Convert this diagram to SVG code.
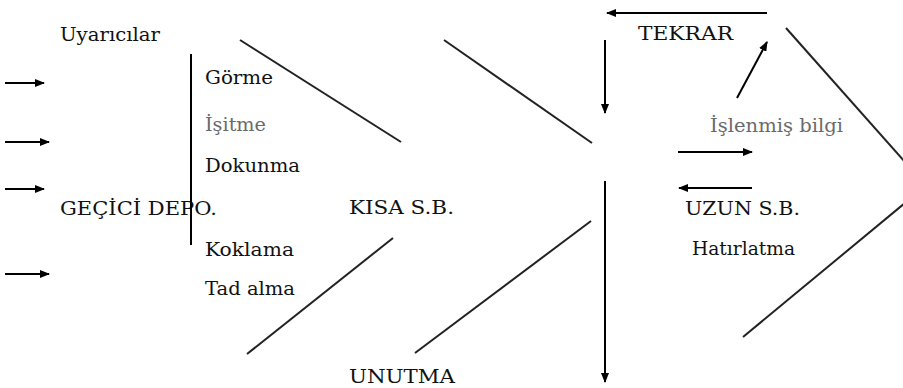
<svg xmlns="http://www.w3.org/2000/svg" width="903" height="388" viewBox="0 0 903 388">
  <defs>
    <marker id="head" markerWidth="10" markerHeight="8" refX="9" refY="4" orient="auto" markerUnits="userSpaceOnUse">
      <path d="M0,0 L10,4 L0,8 z" fill="#000"/>
    </marker>
    <style>
      text { font-family: "DejaVu Serif", "Liberation Serif", serif; font-size: 18.5px; fill: #111; }
      text.soft { fill: #6a6a6a; }
      .edge { stroke: #222; stroke-width: 2; fill: none; }
      .arrow { stroke: #000; stroke-width: 2; fill: none; marker-end: url(#head); }
      .bar { stroke: #000; stroke-width: 2; }
    </style>
  </defs>
  <rect width="903" height="388" fill="#fff"/>

  <!-- sensory input column -->
  <g id="uyaricilar"><text x="60" y="41" textLength="100" lengthAdjust="spacingAndGlyphs">Uyarıcılar</text></g>
  <g id="gecici-depo"><text x="60" y="215" textLength="157" lengthAdjust="spacingAndGlyphs">GEÇİCİ DEPO.</text></g>
  <g id="duyular">
    <line class="bar" x1="191" y1="54" x2="191" y2="245"/>
    <text x="205" y="84" textLength="68" lengthAdjust="spacingAndGlyphs">Görme</text>
    <text class="soft" x="205" y="131" textLength="61" lengthAdjust="spacingAndGlyphs">İşitme</text>
    <text x="205" y="172" textLength="95" lengthAdjust="spacingAndGlyphs">Dokunma</text>
    <text x="205" y="256" textLength="89" lengthAdjust="spacingAndGlyphs">Koklama</text>
    <text x="205" y="295" textLength="90" lengthAdjust="spacingAndGlyphs">Tad alma</text>
  </g>

  <!-- short-term memory -->
  <g id="kisa-sb"><text x="349" y="214" textLength="105" lengthAdjust="spacingAndGlyphs">KISA S.B.</text></g>
  <g id="unutma"><text x="349" y="383" textLength="106" lengthAdjust="spacingAndGlyphs">UNUTMA</text></g>

  <!-- long-term memory -->
  <g id="tekrar"><text x="638" y="40" textLength="95" lengthAdjust="spacingAndGlyphs">TEKRAR</text></g>
  <g id="islenmis-bilgi"><text class="soft" x="710" y="132" textLength="133" lengthAdjust="spacingAndGlyphs">İşlenmiş bilgi</text></g>
  <g id="uzun-sb"><text x="685" y="215" textLength="115" lengthAdjust="spacingAndGlyphs">UZUN S.B.</text></g>
  <g id="hatirlatma"><text x="692" y="255" textLength="103" lengthAdjust="spacingAndGlyphs">Hatırlatma</text></g>

  <g id="connectors">
    <!-- incoming stimuli -->
    <line class="arrow" x1="5" y1="83" x2="44" y2="83"/>
    <line class="arrow" x1="5" y1="142" x2="49" y2="142"/>
    <line class="arrow" x1="5" y1="189" x2="44" y2="189"/>
    <line class="arrow" x1="5" y1="274" x2="49" y2="274"/>

    <!-- funnel walls -->
    <line class="edge" x1="240" y1="40" x2="401" y2="142"/>
    <line class="edge" x1="247" y1="354" x2="393" y2="238"/>
    <line class="edge" x1="444" y1="40" x2="592" y2="143"/>
    <line class="edge" x1="415" y1="353" x2="591" y2="221"/>
    <line class="edge" x1="786" y1="28" x2="905" y2="162"/>
    <line class="edge" x1="743" y1="337" x2="905" y2="203"/>

    <!-- rehearsal loop -->
    <line class="arrow" x1="767" y1="13" x2="607" y2="13"/>
    <line class="arrow" x1="605" y1="40" x2="605" y2="113"/>
    <line class="arrow" x1="737" y1="98" x2="767" y2="42"/>

    <!-- storage and retrieval -->
    <line class="arrow" x1="678" y1="152" x2="752" y2="152"/>
    <line class="arrow" x1="752" y1="188" x2="679" y2="188"/>

    <!-- forgetting -->
    <line class="arrow" x1="605" y1="181" x2="605" y2="382"/>
  </g>
</svg>
